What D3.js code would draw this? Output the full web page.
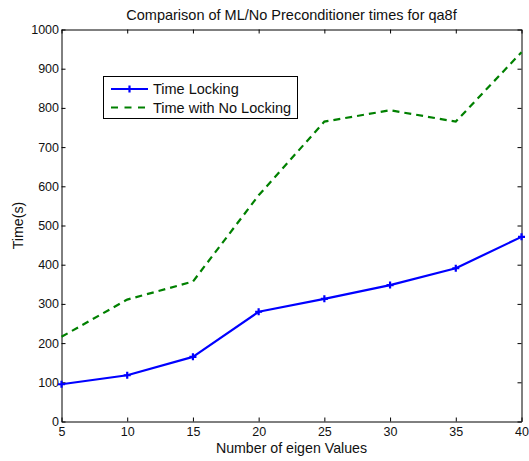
<!DOCTYPE html>
<html>
<head>
<meta charset="utf-8">
<script src="https://cdn.jsdelivr.net/npm/d3@7"></script>
<style>
  html, body { margin: 0; padding: 0; background: #fff; }
  svg { display: block; font-family: "Liberation Sans", Arial, sans-serif; }
</style>
</head>
<body>
<svg id="chart" width="529" height="461"></svg>
<script>
// Number of eigenvalues computed
const eigenCounts = [5, 10, 15, 20, 25, 30, 35, 40];
// Solve times in seconds
const timeLocking = [95, 118, 165, 280, 313, 348, 391, 471];
const timeNoLocking = [216, 311, 357, 577, 765, 794, 765, 942];
const xTicks = [5, 10, 15, 20, 25, 30, 35, 40];
const yTicks = [0, 100, 200, 300, 400, 500, 600, 700, 800, 900, 1000];
const seriesNames = ["Time Locking", "Time with No Locking"];

const svg = d3.select("#chart");
const margin = { left: 61.5, top: 29.5, right: 7.5, bottom: 39.5 };
const W = 529, H = 461;
const x = d3.scaleLinear().domain([5, 40]).range([margin.left, W - margin.right]);
const y = d3.scaleLinear().domain([0, 1000]).range([H - margin.bottom, margin.top]);

const tickLen = 4;
const tickFont = 12.5;
const labelFont = 14.2;

// Axes: labels on bottom/left, inward ticks on all four sides
const axisB = d3.axisBottom(x).tickValues(xTicks).tickFormat(d3.format("d"))
  .tickSizeInner(-tickLen).tickSizeOuter(0).tickPadding(6);
const axisL = d3.axisLeft(y).tickValues(yTicks).tickFormat(d3.format("d"))
  .tickSizeInner(-tickLen).tickSizeOuter(0).tickPadding(2.5);
const axisT = d3.axisTop(x).tickValues(xTicks).tickSizeInner(-tickLen).tickSizeOuter(0).tickFormat("");
const axisR = d3.axisRight(y).tickValues(yTicks).tickSizeInner(-tickLen).tickSizeOuter(0).tickFormat("");

function styleAxis(g) {
  g.selectAll("path.domain").attr("stroke", "#000").attr("stroke-width", 1);
  g.selectAll(".tick line").attr("stroke", "#000").attr("stroke-width", 1);
  g.selectAll(".tick text").attr("fill", "#111").style("font-size", tickFont + "px")
    .style("font-family", "'Liberation Sans', Arial, sans-serif");
}

svg.append("g").attr("transform", `translate(0,${y(0)})`).call(axisB).call(styleAxis);
svg.append("g").attr("transform", `translate(${x(5)},0)`).call(axisL).call(styleAxis);
svg.append("g").attr("transform", `translate(0,${y(1000)})`).call(axisT).call(styleAxis);
svg.append("g").attr("transform", `translate(${x(40)},0)`).call(axisR).call(styleAxis);

// Series lines
const line = d3.line().x((d, i) => x(eigenCounts[i])).y(d => y(d));

svg.append("path").datum(timeNoLocking)
  .attr("d", line).attr("fill", "none")
  .attr("stroke", "#008000").attr("stroke-width", 2.2)
  .attr("stroke-dasharray", "7,5");

svg.append("path").datum(timeLocking)
  .attr("d", line).attr("fill", "none")
  .attr("stroke", "#0000ff").attr("stroke-width", 2.2)
  .attr("stroke-linejoin", "round");

// Plus markers for the locking series
const plus = (cx, cy, r) => `M${cx - r},${cy}H${cx + r}M${cx},${cy - r}V${cy + r}`;
svg.append("g").selectAll("path").data(timeLocking).join("path")
  .attr("d", (d, i) => plus(x(eigenCounts[i]), y(d), 3.5))
  .attr("stroke", "#0000ff").attr("stroke-width", 2.2).attr("fill", "none");

// Title and axis labels
svg.append("text").attr("x", (x(5) + x(40)) / 2).attr("y", 20)
  .attr("text-anchor", "middle").style("font-size", "14.5px").attr("fill", "#111")
  .text("Comparison of ML/No Preconditioner times for qa8f");

svg.append("text").attr("x", (x(5) + x(40)) / 2).attr("y", 453)
  .attr("text-anchor", "middle").style("font-size", labelFont + "px").attr("fill", "#111")
  .text("Number of eigen Values");

svg.append("text").attr("transform", `translate(23,${(y(0) + y(1000)) / 2}) rotate(-90)`)
  .attr("text-anchor", "middle").style("font-size", labelFont + "px").attr("fill", "#111")
  .text("Time(s)");

// Legend
const lg = svg.append("g");
lg.append("rect").attr("x", 103.5).attr("y", 76.5).attr("width", 194).attr("height", 42)
  .attr("fill", "#fff").attr("stroke", "#000").attr("stroke-width", 1);

const rows = [
  { name: seriesNames[0], color: "#0000ff", dash: null, marker: true, cy: 89 },
  { name: seriesNames[1], color: "#008000", dash: "7,6.5", marker: false, cy: 107.5 }
];
rows.forEach(r => {
  lg.append("line").attr("x1", 111).attr("x2", 148).attr("y1", r.cy).attr("y2", r.cy)
    .attr("stroke", r.color).attr("stroke-width", 2.2)
    .attr("stroke-dasharray", r.dash);
  if (r.marker) {
    lg.append("path").attr("d", plus(129.5, r.cy, 3.5))
      .attr("stroke", r.color).attr("stroke-width", 2.2);
  }
  lg.append("text").attr("x", 153).attr("y", r.cy + 5)
    .style("font-size", "14.5px").attr("fill", "#111").text(r.name);
});
</script>
</body>
</html>
